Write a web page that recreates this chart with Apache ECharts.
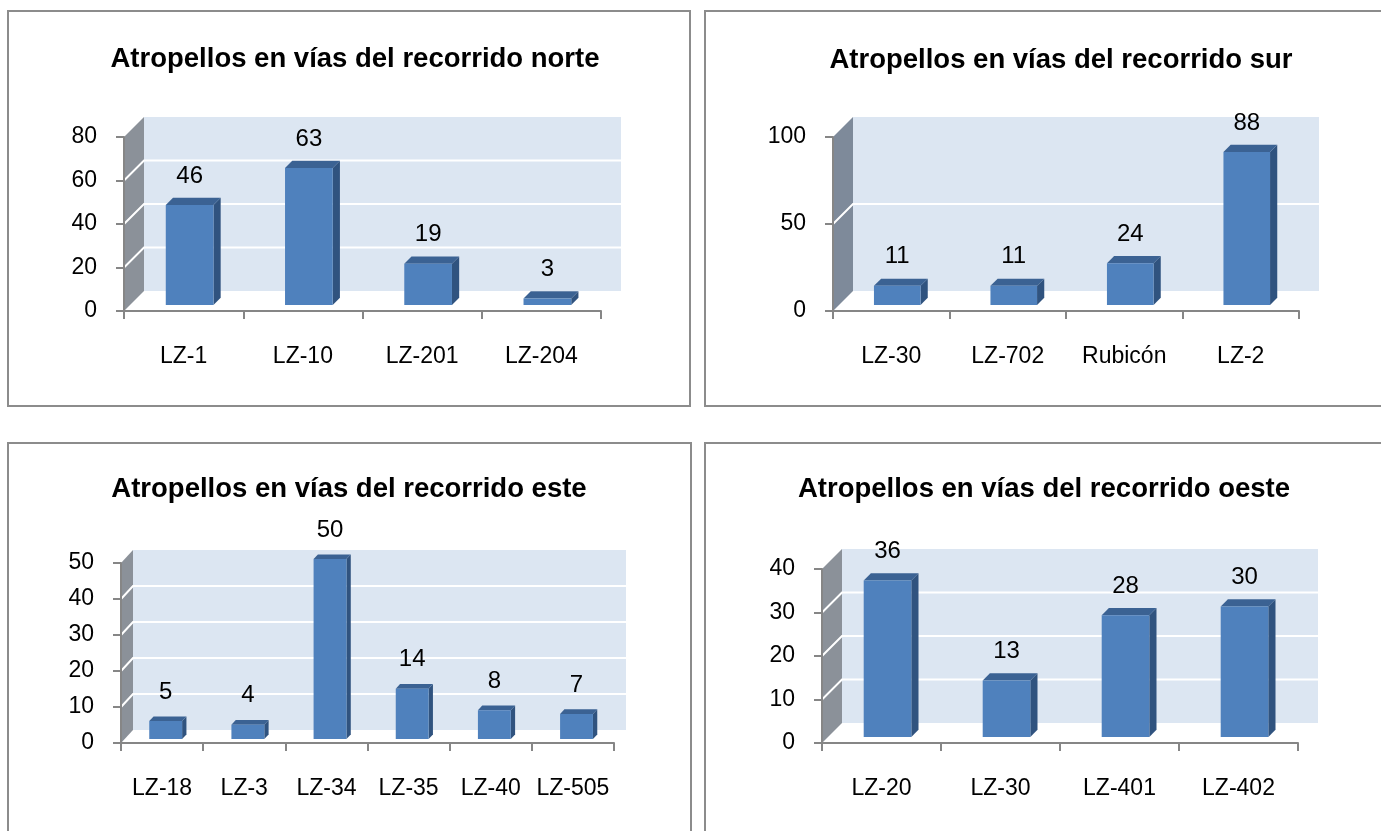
<!DOCTYPE html>
<html>
<head>
<meta charset="utf-8">
<script src="https://cdn.jsdelivr.net/npm/echarts@6/dist/echarts.min.js"></script>
<style>
  html, body { margin: 0; padding: 0; background: #fff; }
  #main { width: 1381px; height: 831px; }
</style>
</head>
<body>
<div id="main"></div>
<script>
// Pedestrian accidents (atropellos) per road, one chart per route
const norteTitle = 'Atropellos en vías del recorrido norte';
const norteRoads = ['LZ-1', 'LZ-10', 'LZ-201', 'LZ-204'];
const norteValues = [46, 63, 19, 3];
const norteTicks = [0, 20, 40, 60, 80];

const surTitle = 'Atropellos en vías del recorrido sur';
const surRoads = ['LZ-30', 'LZ-702', 'Rubicón', 'LZ-2'];
const surValues = [11, 11, 24, 88];
const surTicks = [0, 50, 100];

const esteTitle = 'Atropellos en vías del recorrido este';
const esteRoads = ['LZ-18', 'LZ-3', 'LZ-34', 'LZ-35', 'LZ-40', 'LZ-505'];
const esteValues = [5, 4, 50, 14, 8, 7];
const esteTicks = [0, 10, 20, 30, 40, 50];

const oesteTitle = 'Atropellos en vías del recorrido oeste';
const oesteRoads = ['LZ-20', 'LZ-30', 'LZ-401', 'LZ-402'];
const oesteValues = [36, 13, 28, 30];
const oesteTicks = [0, 10, 20, 30, 40];

// Layout of each panel: frame box, front plane of the plot, oblique depth
const FONT = '"Liberation Sans", Arial, sans-serif';
const panels = [
  { title: norteTitle, roads: norteRoads, values: norteValues, ticks: norteTicks,
    box: [8, 11, 682, 395], grid: { left: 124, top: 137, width: 477, height: 174 },
    titleX: 355, titleY: 45, depth: [20, -20], sideWall: '#8b9199' },
  { title: surTitle, roads: surRoads, values: surValues, ticks: surTicks,
    box: [705, 11, 720, 395], grid: { left: 833, top: 137, width: 466, height: 174 },
    titleX: 1061, titleY: 46, depth: [20, -20], sideWall: '#7e8a9a' },
  { title: esteTitle, roads: esteRoads, values: esteValues, ticks: esteTicks,
    box: [8, 443, 683, 420], grid: { left: 121, top: 563, width: 493, height: 180 },
    titleX: 349, titleY: 475, depth: [12, -13], sideWall: '#8b9199' },
  { title: oesteTitle, roads: oesteRoads, values: oesteValues, ticks: oesteTicks,
    box: [705, 443, 720, 420], grid: { left: 822, top: 569, width: 476, height: 174 },
    titleX: 1044, titleY: 475, depth: [20, -20], sideWall: '#8b9199' }
];

const AXIS_GREY = '#868686';
const BACK_WALL = '#dce6f2';
const BAR_FRONT = '#4f81bd';
const BAR_TOP = '#3b6293';
const BAR_SIDE = '#30537f';

// Back wall, side wall and the white gridlines folded across them
function wallRenderer(panel) {
  return function (params, api) {
    const cs = params.coordSys;
    const dx = panel.depth[0], dy = panel.depth[1];
    const L = cs.x, R = cs.x + cs.width, T = cs.y, B = cs.y + cs.height;
    const children = [
      { type: 'rect', shape: { x: L + dx, y: T + dy, width: R - L, height: B - T },
        style: { fill: BACK_WALL } },
      { type: 'polygon', shape: { points: [[L, B], [L, T], [L + dx, T + dy], [L + dx, B + dy]] },
        style: { fill: panel.sideWall } }
    ];
    const last = panel.ticks[panel.ticks.length - 1];
    panel.ticks.forEach(function (v) {
      if (v === panel.ticks[0] || v === last) return;
      const y = api.coord([0, v])[1];
      children.push({ type: 'polyline',
        shape: { points: [[L, y], [L + dx, y + dy], [R + dx, y + dy]] },
        style: { stroke: '#ffffff', lineWidth: 2, fill: null } });
    });
    return { type: 'group', children: children };
  };
}

// Oblique 3D column: front face, top cap, right side and value label
function barRenderer(panel) {
  return function (params, api) {
    const idx = api.value(0), v = api.value(1);
    const base = api.coord([idx, 0]);
    const top = api.coord([idx, v]);
    const bw = api.size([1, 0])[0] * 0.4;
    const dx = panel.depth[0], dy = panel.depth[1];
    const ox = dx * 0.3, oy = dy * 0.3;      // bar sits behind the front plane
    const bdx = dx * 0.36, bdy = dy * 0.36;  // bar depth
    const x1 = base[0] - bw / 2 + ox, x2 = x1 + bw;
    const yb = base[1] + oy, yt = top[1] + oy;
    return {
      type: 'group',
      children: [
        { type: 'polygon', shape: { points: [[x2, yt], [x2, yb], [x2 + bdx, yb + bdy], [x2 + bdx, yt + bdy]] },
          style: { fill: BAR_SIDE } },
        { type: 'polygon', shape: { points: [[x1, yt], [x2, yt], [x2 + bdx, yt + bdy], [x1 + bdx, yt + bdy]] },
          style: { fill: BAR_TOP } },
        { type: 'rect', shape: { x: x1, y: yt, width: bw, height: yb - yt },
          style: { fill: BAR_FRONT } },
        { type: 'text', x: (x1 + x2) / 2, y: yt - 29,
          style: { text: String(v), align: 'center', verticalAlign: 'middle',
                   fontSize: 24, fontFamily: FONT, fill: '#000' } }
      ]
    };
  };
}

const option = {
  animation: false,
  backgroundColor: '#ffffff',
  title: [],
  grid: [],
  xAxis: [],
  yAxis: [],
  series: [],
  graphic: []
};

panels.forEach(function (p, i) {
  option.graphic.push({
    type: 'rect', z: 0, silent: true,
    shape: { x: p.box[0], y: p.box[1], width: p.box[2], height: p.box[3] },
    style: { fill: null, stroke: '#8c8c8c', lineWidth: 2 }
  });
  option.title.push({
    text: p.title, left: p.titleX, top: p.titleY, textAlign: 'center', padding: 0,
    textStyle: { fontSize: 27.5, fontWeight: 'bold', fontFamily: FONT, color: '#000' }
  });
  option.grid.push(Object.assign({ containLabel: false }, p.grid));
  option.xAxis.push({
    type: 'category', gridIndex: i, data: p.roads, z: 5,
    axisLine: { show: true, lineStyle: { color: AXIS_GREY, width: 2 } },
    axisTick: { show: true, length: 8, lineStyle: { color: AXIS_GREY, width: 2 } },
    axisLabel: { interval: 0, margin: 34, fontSize: 23, fontFamily: FONT, color: '#000' },
    splitLine: { show: false }
  });
  option.yAxis.push({
    type: 'value', gridIndex: i, z: 5,
    min: p.ticks[0], max: p.ticks[p.ticks.length - 1], interval: p.ticks[1] - p.ticks[0],
    axisLine: { show: true, lineStyle: { color: AXIS_GREY, width: 2 } },
    axisTick: { show: true, length: 8, lineStyle: { color: AXIS_GREY, width: 2 } },
    axisLabel: { margin: 27, fontSize: 23, fontFamily: FONT, color: '#000' },
    splitLine: { show: false }
  });
  option.series.push({
    type: 'custom', name: 'walls' + i, xAxisIndex: i, yAxisIndex: i, z: 1, silent: true,
    renderItem: wallRenderer(p), data: [[0, 0]], encode: { x: 0, y: 1 }, clip: false
  });
  option.series.push({
    type: 'custom', name: p.title, xAxisIndex: i, yAxisIndex: i, z: 2,
    renderItem: barRenderer(p),
    data: p.values.map(function (v, k) { return [k, v]; }),
    encode: { x: 0, y: 1 }, clip: false
  });
});

const chart = echarts.init(document.getElementById('main'), null, { renderer: 'canvas' });
chart.setOption(option);
</script>
</body>
</html>
